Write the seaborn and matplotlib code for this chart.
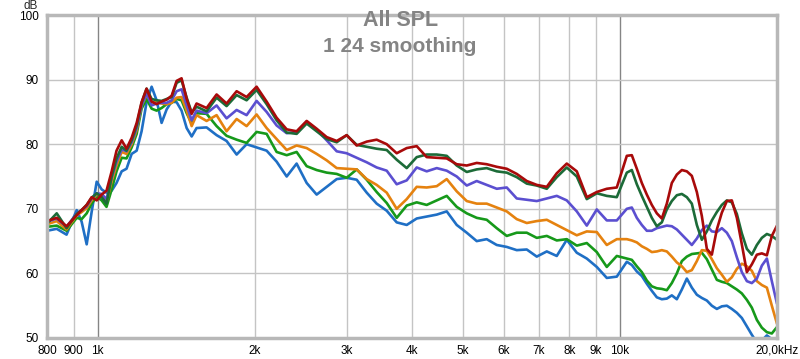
"""
plot.py
- REW style SPL overlay (All SPL, 1/24 smoothing)
"""

import matplotlib
matplotlib.use("Agg")
import matplotlib.pyplot as plt
import seaborn as sns
import numpy as np
import pandas as pd

# frequency grid (Hz)
freqs = [800, 835, 872, 912, 932, 953, 974, 996, 1018, 1040, 1064, 1087, 1112, 1136,
         1162, 1188, 1214, 1241, 1269, 1297, 1326, 1356, 1386, 1417, 1448, 1481, 1514, 1547,
         1617, 1690, 1766, 1846, 1929, 2016, 2107, 2202, 2302, 2405,
         2514, 2627, 2746, 2870, 2999, 3134, 3276, 3423, 3578, 3739,
         3908, 4084, 4268, 4461, 4662, 4872, 5092, 5321, 5561, 5812,
         6074, 6348, 6635, 6934, 7247, 7573, 7915, 8272, 8645, 9035,
         9442, 9868,
         10314, 10544, 10779, 11019, 11265, 11516, 11773, 12035, 12304, 12578,
         12859, 13145, 13439, 13738, 14045, 14357, 14678, 15005, 15340, 15681,
         16032, 16388, 16755, 17127, 17511, 17899, 18301, 18706, 19126, 19549, 20000]

spl_red = [68.1, 68.6, 67.3, 69.0, 69.8, 70.6, 71.8, 71.3, 72.2, 72.8, 75.8, 79.0, 80.6, 79.3,
           81.0, 83.3, 86.5, 88.6, 86.6, 86.2, 86.6, 86.9, 87.5, 89.8, 90.2, 87.0, 84.7, 86.3,
           85.6, 87.7, 86.3, 88.2, 87.3, 88.9, 86.6, 84.1, 82.3, 82.0,
           83.6, 82.4, 81.1, 80.5, 81.4, 79.8, 80.4, 80.7, 80.0, 78.6,
           79.4, 79.7, 78.0, 77.9, 77.8, 76.9, 76.7, 77.1, 76.9, 76.5,
           76.2, 75.4, 74.3, 73.7, 73.4, 75.5, 77.0, 75.8, 71.8, 72.6,
           73.1, 73.3,
           78.2, 78.3, 76.2, 74.0, 72.2, 70.6, 69.3, 68.5, 70.8, 74.0,
           75.3, 76.0, 75.8, 75.1, 72.6, 68.9, 63.8, 62.9, 66.8, 69.4,
           71.2, 71.3, 68.6, 64.5, 60.2, 61.4, 62.9, 63.1, 62.8, 65.8, 67.4]

spl_darkgreen = [67.7, 69.3, 67.0, 69.2, 69.8, 70.6, 71.7, 72.4, 71.8, 70.8, 75.0, 77.8, 79.6, 79.0,
                 80.6, 82.9, 86.4, 88.6, 87.0, 86.8, 86.7, 87.0, 87.3, 89.5, 89.9, 87.2, 84.9, 85.8,
                 85.1, 87.2, 85.9, 87.6, 86.8, 88.4, 86.2, 83.7, 81.8, 81.6,
                 83.2, 82.0, 80.8, 80.3, 81.4, 79.9, 79.6, 79.3, 79.1, 77.6,
                 76.3, 78.0, 78.4, 78.4, 78.2, 76.7, 75.7, 76.1, 76.3, 75.8,
                 75.6, 74.9, 73.9, 73.6, 73.1, 74.9, 76.4, 75.0, 71.5, 72.4,
                 72.0, 71.8,
                 75.6, 76.0, 73.8, 72.0, 70.3, 68.6, 67.3, 67.9, 69.9, 71.2,
                 72.1, 72.3, 71.8, 70.8, 67.5, 65.2, 66.5, 68.2, 69.5, 70.6,
                 71.3, 71.0, 69.2, 66.2, 63.8, 62.9, 64.4, 65.5, 66.1, 65.8, 65.2]

spl_purple = [68.0, 68.5, 67.2, 69.3, 69.8, 70.4, 71.6, 72.4, 72.3, 71.5, 74.8, 77.3, 79.2, 78.9,
              80.3, 82.5, 86.0, 87.8, 86.0, 86.3, 86.4, 86.4, 86.8, 88.2, 88.5, 86.0, 83.7, 85.2,
              84.8, 86.0, 84.0, 85.3, 84.5, 86.7, 85.0, 82.9, 81.7, 81.9,
              83.5, 82.2, 80.6, 78.9, 78.6, 77.9, 77.2, 76.4, 75.9, 73.8,
              74.4, 76.4, 75.8, 76.3, 75.9, 75.0, 73.6, 74.3, 73.7, 73.1,
              73.3, 71.6, 71.4, 71.2, 71.6, 72.0, 71.3, 69.6, 67.4, 69.9,
              68.2, 68.2,
              70.0, 70.2, 68.6, 67.5, 66.6, 66.6, 67.0, 67.2, 67.4, 67.3,
              66.8, 66.0, 65.2, 64.4, 65.4, 66.7, 67.4, 66.5, 66.4, 67.0,
              66.3, 65.0, 62.5, 60.2, 58.8, 58.5, 59.2, 61.2, 62.3, 58.8, 55.3]

spl_orange = [67.6, 68.1, 66.8, 69.0, 69.5, 70.1, 71.3, 72.2, 72.0, 71.0, 74.3, 76.7, 78.8, 78.5,
              80.0, 82.2, 86.0, 87.6, 86.5, 86.5, 86.3, 86.2, 86.4, 87.2, 87.3, 85.2, 82.8, 84.5,
              83.6, 84.5, 82.0, 83.9, 82.8, 84.6, 82.5, 80.8, 79.1, 79.8,
              79.4, 78.5, 77.5, 76.3, 76.2, 76.1, 74.6, 73.7, 72.5, 70.0,
              71.5, 73.4, 73.3, 73.5, 74.6, 72.7, 71.2, 70.8, 70.8, 70.2,
              69.6, 68.4, 67.8, 68.1, 68.3, 67.5, 66.7, 65.9, 66.5, 66.4,
              64.4, 65.3,
              65.3, 65.1, 64.8, 64.2, 63.8, 63.3, 63.4, 63.6, 63.4, 62.6,
              61.7, 61.1, 60.2, 60.5, 61.9, 63.6, 63.5, 62.2, 60.8, 59.8,
              58.7, 59.4, 60.7, 61.5, 61.1, 60.4, 58.8, 58.2, 57.8, 55.0, 52.2]

spl_green = [67.2, 67.4, 66.6, 68.6, 68.4, 69.3, 70.8, 71.9, 71.3, 70.3, 73.0, 75.8, 77.9, 77.8,
             79.5, 81.6, 85.5, 87.0, 85.5, 85.2, 85.6, 86.2, 86.4, 87.0, 86.8, 84.8, 83.2, 84.8,
             84.7, 82.8, 81.3, 80.7, 80.2, 81.9, 81.6, 78.8, 78.3, 78.8,
             76.6, 76.0, 75.6, 75.4, 74.8, 76.1, 74.5, 72.6, 70.9, 68.6,
             70.5, 71.0, 70.6, 71.3, 72.0, 70.3, 69.3, 68.6, 68.3, 67.0,
             65.8, 66.3, 66.3, 65.5, 65.8, 65.1, 65.3, 64.3, 64.7, 63.3,
             61.0, 62.7,
             62.3, 62.1, 61.1, 60.2, 58.9, 58.0, 57.7, 57.6, 57.4, 58.5,
             60.0, 61.9, 62.6, 63.0, 63.1, 63.2, 62.2, 60.6, 59.0, 58.7,
             58.5, 58.0, 57.5, 56.9, 55.9, 54.7, 52.8, 51.6, 50.9, 50.7, 51.7]

spl_blue = [66.6, 66.9, 66.0, 69.8, 68.0, 64.5, 69.5, 74.2, 73.0, 72.5, 72.8, 74.0, 75.8, 76.2,
            78.5, 79.0, 82.0, 86.5, 88.9, 86.8, 83.3, 85.4, 86.6, 86.5, 85.2, 82.5, 81.2, 82.5,
            82.6, 81.4, 80.5, 78.4, 80.0, 79.5, 79.0, 77.3, 75.0, 77.0,
            74.0, 72.2, 73.4, 74.6, 74.8, 74.5, 72.5, 70.8, 69.7, 67.9,
            67.5, 68.5, 68.8, 69.1, 69.6, 67.5, 66.3, 65.0, 65.3, 64.4,
            64.1, 63.6, 63.7, 62.6, 63.4, 62.7, 65.2, 63.2, 62.3, 61.0,
            59.3, 59.5,
            61.8, 61.3, 60.3, 59.6, 58.4, 57.3, 56.3, 56.0, 56.1, 56.6,
            56.0, 57.5, 59.2, 57.8, 56.7, 56.2, 55.8, 55.0, 54.5, 54.9,
            55.0, 54.5, 53.9, 53.1, 51.8, 50.5, 49.3, 49.6, 50.4, 49.8, 49.0]

series = {
    "blue": spl_blue,
    "green": spl_green,
    "orange": spl_orange,
    "purple": spl_purple,
    "darkgreen": spl_darkgreen,
    "red": spl_red,
}
colors = {
    "blue": "#1f6fc5",
    "green": "#16991a",
    "orange": "#e5820f",
    "purple": "#5b4fd0",
    "darkgreen": "#1c6b38",
    "red": "#a80a0a",
}

xticks = [800, 900, 1000, 2000, 3000, 4000, 5000, 6000, 7000, 8000, 9000, 10000, 20000]
xlabels = ["800", "900", "1k", "2k", "3k", "4k", "5k", "6k", "7k", "8k", "9k", "10k", "20,0kHz"]
yticks = [50, 60, 70, 80, 90, 100]

df = pd.concat(
    [pd.DataFrame({"freq": freqs, "spl": v, "trace": k}) for k, v in series.items()],
    ignore_index=True,
)

sns.set_style("white")
plt.rcParams["font.family"] = ["Liberation Sans", "DejaVu Sans"]

fig = plt.figure(figsize=(8, 3.59), dpi=100)
ax = fig.add_axes([47 / 800, 1 - 338 / 359, 730 / 800, 323 / 359])

# grid first so the traces sit on top
for f in [900, 2000, 3000, 4000, 5000, 6000, 7000, 8000, 9000]:
    ax.axvline(f, color="#c4c4c4", lw=1, zorder=0)
for f in [1000, 10000]:
    ax.axvline(f, color="#858585", lw=1, zorder=0)
for v in [60, 70, 80, 90]:
    ax.axhline(v, color="#c4c4c4", lw=1, zorder=0)

sns.lineplot(data=df, x="freq", y="spl", hue="trace", palette=colors,
             sort=False, estimator=None, linewidth=1.9, legend=False, ax=ax)
for ln in ax.get_lines():
    ln.set_solid_joinstyle("round")
    ln.set_solid_capstyle("round")

ax.set_xscale("log")
ax.set_xlim(800, 20000)
ax.set_ylim(50, 100)
ax.set_xticks(xticks)
ax.set_xticklabels(xlabels)
ax.xaxis.set_minor_locator(matplotlib.ticker.NullLocator())
ax.set_yticks(yticks)
ax.tick_params(axis="both", length=0, labelsize=8.5, colors="#000000")
ax.tick_params(axis="x", pad=5)
ax.tick_params(axis="y", pad=6)
ax.set_xlabel("")
ax.set_ylabel("")
for s in ax.spines.values():
    s.set_color("#b8b8b8")
    s.set_linewidth(2.5)

fig.text(31 / 800, 1 - 6 / 359, "dB", fontsize=8.5, ha="center", va="center")
fig.text(401 / 800, 1 - 20 / 359, "All SPL", fontsize=15.5, fontweight="bold",
         color="#848484", ha="center", va="center")
fig.text(400 / 800, 1 - 47 / 359, "1 24 smoothing", fontsize=15, fontweight="bold",
         color="#848484", ha="center", va="center")

fig.savefig("out.png", dpi=100, facecolor="white")
plt.close(fig)
